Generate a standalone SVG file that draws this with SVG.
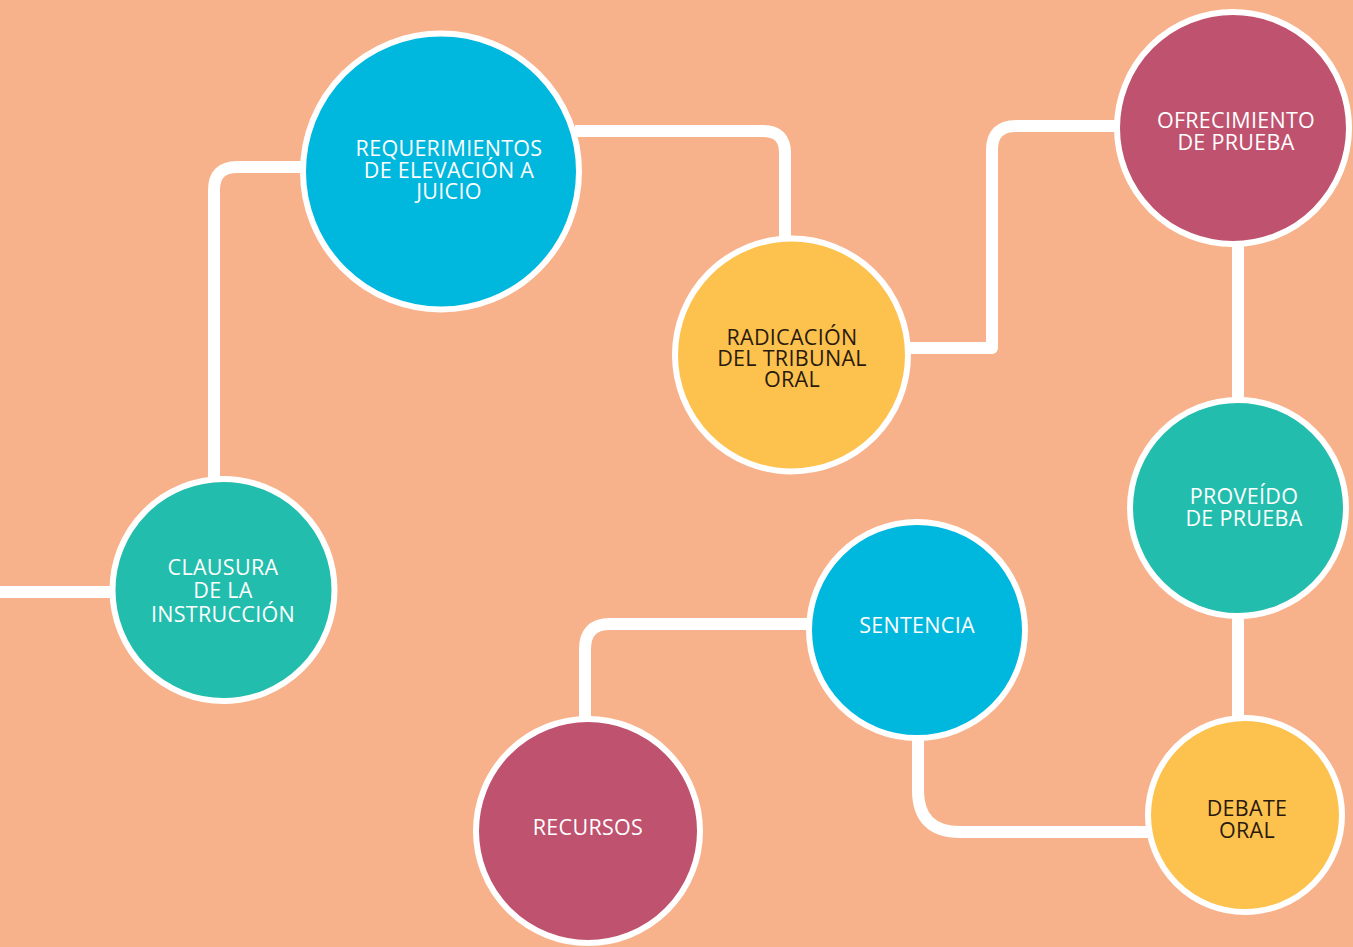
<svg xmlns="http://www.w3.org/2000/svg" width="1353" height="947" viewBox="0 0 1353 947">
<style>
.bg{fill:#F7B28B}
.c{fill:none;stroke:#FFFFFF;stroke-width:12;stroke-linejoin:round}
.n{stroke:#FFFFFF;stroke-width:6}
.teal{fill:#22BDAC}
.cyan{fill:#00B7DE}
.yel{fill:#FDC24E}
.mag{fill:#BF526F}
.t{font-family:"Open Sans","Liberation Sans",sans-serif;font-size:21.5px;text-anchor:middle;fill:#FFFFFF;letter-spacing:0.3px}
.d{fill:#2A1A0E}
</style>
<rect class="bg" x="0" y="0" width="1353" height="947"/>
<g id="connectors">
<path class="c" d="M0,592 H115"/>
<path class="c" d="M214,480 V190 Q214,167 237,167 H305"/>
<path class="c" d="M575,131 H763 Q785,131 785,153 V240"/>
<path class="c" d="M905,348 H992 V150 Q992,126 1016,126 H1118"/>
<path class="c" d="M1238,240 V402"/>
<path class="c" d="M1238,612 V720"/>
<path class="c" d="M1150,832 H960 Q918,832 918,790 V735"/>
<path class="c" d="M810,624 H610 Q585,624 585,649 V722"/>
</g>
<g id="clausura">
<circle class="n teal" cx="223.5" cy="590" r="111"/>
<text class="t" x="223" y="575">CLAUSURA</text>
<text class="t" x="223" y="598">DE LA</text>
<text class="t" x="223" y="622">INSTRUCCIÓN</text>
</g>
<g id="requerimientos">
<circle class="n cyan" cx="441" cy="171.5" r="138"/>
<text class="t" x="449" y="156">REQUERIMIENTOS</text>
<text class="t" x="449" y="178">DE ELEVACIÓN A</text>
<text class="t" x="449" y="199">JUICIO</text>
</g>
<g id="radicacion">
<circle class="n yel" cx="791.5" cy="355" r="116.5"/>
<text class="t d" x="792" y="345">RADICACIÓN</text>
<text class="t d" x="792" y="366">DEL TRIBUNAL</text>
<text class="t d" x="792" y="387">ORAL</text>
</g>
<g id="ofrecimiento">
<circle class="n mag" cx="1233" cy="128" r="116"/>
<text class="t" x="1236" y="128">OFRECIMIENTO</text>
<text class="t" x="1236" y="150">DE PRUEBA</text>
</g>
<g id="proveido">
<circle class="n teal" cx="1238" cy="508" r="108"/>
<text class="t" x="1244" y="504">PROVEÍDO</text>
<text class="t" x="1244" y="526">DE PRUEBA</text>
</g>
<g id="debate">
<circle class="n yel" cx="1245" cy="815" r="97"/>
<text class="t d" x="1247" y="816">DEBATE</text>
<text class="t d" x="1247" y="838">ORAL</text>
</g>
<g id="sentencia">
<circle class="n cyan" cx="917" cy="630" r="108"/>
<text class="t" x="917" y="633">SENTENCIA</text>
</g>
<g id="recursos">
<circle class="n mag" cx="588" cy="831" r="112"/>
<text class="t" x="588" y="835">RECURSOS</text>
</g>
</svg>
